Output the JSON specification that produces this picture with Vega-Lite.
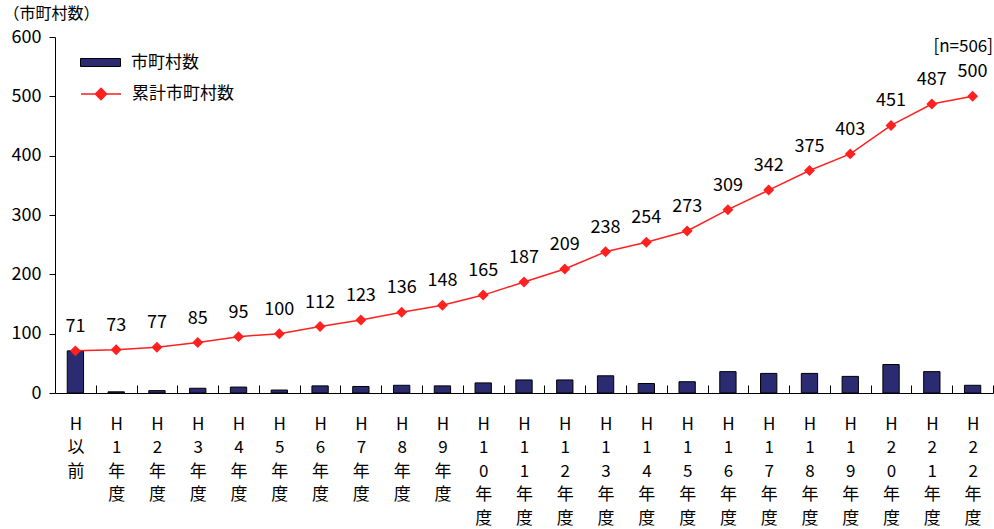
{
  "$schema": "https://vega.github.io/schema/vega-lite/v6.json",
  "width": 938,
  "height": 356,
  "autosize": {"type": "none"},
  "padding": {"left": 55, "top": 37, "right": 1, "bottom": 136},
  "background": "white",
  "config": {"font": "Noto Sans CJK JP", "view": {"stroke": null}, "legend": {"padding": 0}},
  "title": {"text": "[n=506]", "anchor": "end", "frame": "group", "fontSize": 17, "fontWeight": "normal", "color": "black", "offset": -68, "baseline": "bottom"},
  "data": {"values": [
    {"period": "H以前", "count": 71, "cumulative": 71},
    {"period": "H1年度", "count": 2, "cumulative": 73},
    {"period": "H2年度", "count": 4, "cumulative": 77},
    {"period": "H3年度", "count": 8, "cumulative": 85},
    {"period": "H4年度", "count": 10, "cumulative": 95},
    {"period": "H5年度", "count": 5, "cumulative": 100},
    {"period": "H6年度", "count": 12, "cumulative": 112},
    {"period": "H7年度", "count": 11, "cumulative": 123},
    {"period": "H8年度", "count": 13, "cumulative": 136},
    {"period": "H9年度", "count": 12, "cumulative": 148},
    {"period": "H10年度", "count": 17, "cumulative": 165},
    {"period": "H11年度", "count": 22, "cumulative": 187},
    {"period": "H12年度", "count": 22, "cumulative": 209},
    {"period": "H13年度", "count": 29, "cumulative": 238},
    {"period": "H14年度", "count": 16, "cumulative": 254},
    {"period": "H15年度", "count": 19, "cumulative": 273},
    {"period": "H16年度", "count": 36, "cumulative": 309},
    {"period": "H17年度", "count": 33, "cumulative": 342},
    {"period": "H18年度", "count": 33, "cumulative": 375},
    {"period": "H19年度", "count": 28, "cumulative": 403},
    {"period": "H20年度", "count": 48, "cumulative": 451},
    {"period": "H21年度", "count": 36, "cumulative": 487},
    {"period": "H22年度", "count": 13, "cumulative": 500}
  ]},
  "encoding": {
    "x": {
      "field": "period", "type": "ordinal", "sort": null,
      "scale": {"paddingInner": 0.6, "paddingOuter": 0.3},
      "axis": {
        "title": null, "labelAngle": 0, "labelExpr": "isValid(datum.value) ? split(datum.value, '') : ''",
        "labelLineHeight": 23.5, "labelFontSize": 17, "labelBaseline": "top", "labelColor": "black",
        "labelPadding": 31, "tickSize": -8, "tickOffset": 20.39, "labelOffset": -20.39, "tickColor": "black",
        "domainColor": "black", "grid": false
      }
    }
  },
  "layer": [
    {
      "mark": {"type": "bar", "stroke": "black", "strokeWidth": 1},
      "encoding": {
        "y": {
          "field": "count", "type": "quantitative",
          "scale": {"domain": [0, 600]},
          "axis": {
            "values": [0, 100, 200, 300, 400, 500, 600], "grid": false,
            "tickSize": 6, "tickColor": "black", "domainColor": "black",
            "labelFontSize": 18, "labelColor": "black", "labelPadding": 8,
            "title": "（市町村数）", "titleAngle": 0, "titleX": -52, "titleY": -24,
            "titleAlign": "left", "titleBaseline": "middle", "titleFontWeight": "normal",
            "titleFontSize": 16, "titleColor": "black"
          }
        },
        "fill": {
          "datum": "市町村数", "type": "nominal",
          "scale": {"domain": ["市町村数"], "range": ["#2b2b72"]},
          "legend": {
            "title": null, "orient": "none", "legendX": 25, "legendY": 5,
            "symbolType": "M-1,-0.2H1V0.2H-1Z", "symbolSize": 1600,
            "symbolStrokeColor": "black", "symbolStrokeWidth": 1, "symbolOpacity": 1,
            "labelFontSize": 17, "labelColor": "black", "labelOffset": 10
          }
        }
      }
    },
    {
      "mark": {"type": "line", "strokeWidth": 1.5},
      "encoding": {
        "y": {"field": "cumulative", "type": "quantitative"},
        "stroke": {
          "datum": "累計市町村数", "type": "nominal",
          "scale": {"domain": ["累計市町村数"], "range": ["#ff2020"]},
          "legend": {
            "title": null, "orient": "none", "legendX": 25, "legendY": 36,
            "symbolType": "M-1,0H1M0,-0.28L0.28,0L0,0.28L-0.28,0Z", "symbolSize": 1600,
            "symbolFillColor": "#ff2020", "symbolStrokeWidth": 1.5, "symbolOpacity": 1,
            "labelFontSize": 17, "labelColor": "black", "labelOffset": 10
          }
        }
      }
    },
    {
      "mark": {"type": "point", "shape": "diamond", "filled": true, "size": 120, "opacity": 1, "color": "#ff2020"},
      "encoding": {
        "y": {"field": "cumulative", "type": "quantitative"}
      }
    },
    {
      "mark": {"type": "text", "fontSize": 18, "baseline": "bottom", "dy": -15, "color": "black"},
      "encoding": {
        "y": {"field": "cumulative", "type": "quantitative"},
        "text": {"field": "cumulative", "type": "quantitative"}
      }
    }
  ]
}
